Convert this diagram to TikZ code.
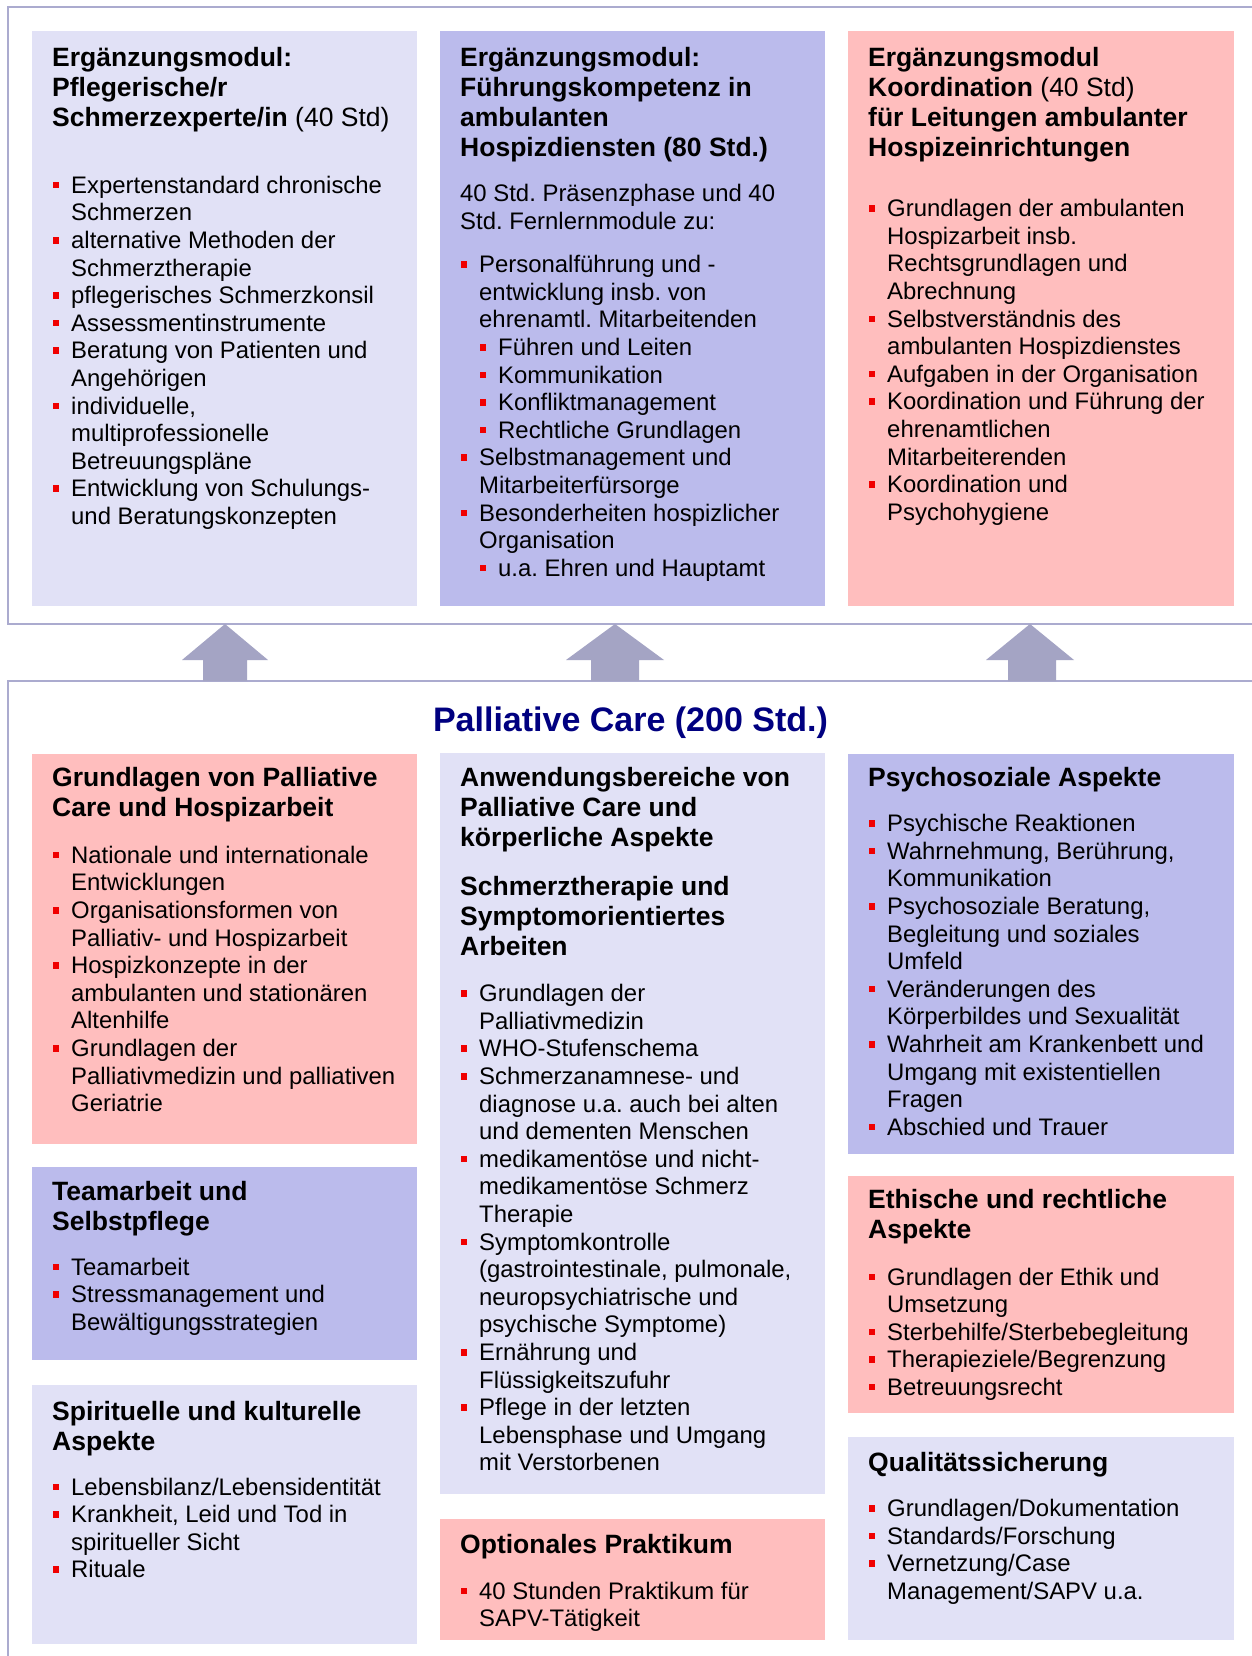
\documentclass[tikz,border=0pt]{standalone}
\usepackage{fontspec}
\setmainfont{Liberation Sans}
\frenchspacing
\definecolor{lightc}{RGB}{225,225,246}
\definecolor{medc}{RGB}{187,187,236}
\definecolor{pinkc}{RGB}{255,190,190}
\definecolor{arrc}{RGB}{164,164,196}
\definecolor{framec}{RGB}{171,171,207}
\definecolor{navyc}{RGB}{0,0,128}
\definecolor{bulc}{RGB}{240,0,0}
\newcounter{lnc}
\newcommand\HL[3]{\stepcounter{lnc}\node[hd] (h\arabic{lnc}) at (#1,#2) {#3};}
\newcommand\TL[3]{\stepcounter{lnc}\node[txt] (t\arabic{lnc}) at (#1,#2) {#3};}
\newcommand\CL[3]{\stepcounter{lnc}\node[txt] (t\arabic{lnc}) at (#1+19,#2) {#3};}
\newcommand\BL[3]{\stepcounter{lnc}\node[txt] (t\arabic{lnc}) at (#1+19,#2) {#3};\fill[bulc] (#1+0.8,#2-11.5) rectangle (#1+7.3,#2-5);}
\newcommand\SB[3]{\stepcounter{lnc}\node[txt] (t\arabic{lnc}) at (#1+38,#2) {#3};\fill[bulc] (#1+19.8,#2-11.5) rectangle (#1+26.3,#2-5);}
\newcommand\UpArrow[5]{\fill[arrc] (#1,624) -- (#3,660) -- (#5,660) -- (#5,681) -- (#4,681) -- (#4,660) -- (#2,660) -- cycle;}
\begin{document}
\begin{tikzpicture}[x=1pt,y=-1pt,
  txt/.style={anchor=base west,inner sep=0pt,font=\fontsize{23.9}{27.6}\selectfont},
  hd/.style={anchor=base west,inner sep=0pt,font=\fontsize{26.5}{30}\selectfont\bfseries},
  frame/.style={draw=framec,line width=2pt}]
\useasboundingbox (0,0) rectangle (1252,1656);
\fill[white] (0,0) rectangle (1252,1656);
% frames
\draw[frame] (1262,7) -- (8,7) -- (8,624) -- (1262,624);
\draw[frame] (1262,681) -- (8,681) -- (8,1662);
% arrows
\UpArrow{225}{182}{268}{203}{247}
\UpArrow{615}{566}{664}{591}{639}
\UpArrow{1030}{986}{1074}{1008}{1056}
% top boxes
\fill[lightc] (32,31) rectangle (417,606);
\fill[medc] (440,31) rectangle (825,606);
\fill[pinkc] (848,31) rectangle (1234,606);
% bottom boxes
\fill[pinkc] (32,754) rectangle (417,1144);
\fill[medc] (32,1167) rectangle (417,1360);
\fill[lightc] (32,1385) rectangle (417,1644);
\fill[lightc] (440,753) rectangle (825,1494);
\fill[pinkc] (440,1519) rectangle (825,1640);
\fill[medc] (848,754) rectangle (1234,1154);
\fill[pinkc] (848,1176) rectangle (1234,1413);
\fill[lightc] (848,1437) rectangle (1234,1640);
% title
\node[anchor=base,inner sep=0pt,text=navyc,font=\fontsize{34}{34}\selectfont\bfseries] (title) at (630.5,731.7) {Palliative Care (200 Std.)};
% top box 1
\HL{52}{66.3}{Ergänzungsmodul:}
\HL{52}{96.6}{Pflegerische/r}
\HL{52}{126.6}{Schmerzexperte/in {\mdseries(40 Std)}}
\BL{52}{193.3}{Expertenstandard chronische}
\CL{52}{220.9}{Schmerzen}
\BL{52}{248.5}{alternative Methoden der}
\CL{52}{276.1}{Schmerztherapie}
\BL{52}{303.7}{pflegerisches Schmerzkonsil}
\BL{52}{331.3}{Assessmentinstrumente}
\BL{52}{358.9}{Beratung von Patienten und}
\CL{52}{386.5}{Angehörigen}
\BL{52}{414.1}{individuelle,}
\CL{52}{441.7}{multiprofessionelle}
\CL{52}{469.3}{Betreuungspläne}
\BL{52}{496.9}{Entwicklung von Schulungs-}
\CL{52}{524.5}{und Beratungskonzepten}
% top box 2
\HL{460}{66.3}{Ergänzungsmodul:}
\HL{460}{96.6}{Führungskompetenz in}
\HL{460}{126.6}{ambulanten}
\HL{460}{156.6}{Hospizdiensten (80 Std.)}
\TL{460}{201.7}{40 Std. Präsenzphase und 40}
\TL{460}{229.2}{Std. Fernlernmodule zu:}
\BL{460}{272.7}{Personalführung und -}
\CL{460}{300.3}{entwicklung insb. von}
\CL{460}{327.9}{ehrenamtl. Mitarbeitenden}
\SB{460}{355.5}{Führen und Leiten}
\SB{460}{383.1}{Kommunikation}
\SB{460}{410.7}{Konfliktmanagement}
\SB{460}{438.3}{Rechtliche Grundlagen}
\BL{460}{465.9}{Selbstmanagement und}
\CL{460}{493.5}{Mitarbeiterfürsorge}
\BL{460}{521.1}{Besonderheiten hospizlicher}
\CL{460}{548.7}{Organisation}
\SB{460}{576.3}{u.a. Ehren und Hauptamt}
% top box 3
\HL{868}{66.3}{Ergänzungsmodul}
\HL{868}{96.6}{Koordination {\mdseries(40 Std)}}
\HL{868}{126.6}{für Leitungen ambulanter}
\HL{868}{156.6}{Hospizeinrichtungen}
\BL{868}{216.7}{Grundlagen der ambulanten}
\CL{868}{244.3}{Hospizarbeit insb.}
\CL{868}{271.9}{Rechtsgrundlagen und}
\CL{868}{299.5}{Abrechnung}
\BL{868}{327.1}{Selbstverständnis des}
\CL{868}{354.7}{ambulanten Hospizdienstes}
\BL{868}{382.3}{Aufgaben in der Organisation}
\BL{868}{409.9}{Koordination und Führung der}
\CL{868}{437.5}{ehrenamtlichen}
\CL{868}{465.1}{Mitarbeiterenden}
\BL{868}{492.7}{Koordination und}
\CL{868}{520.3}{Psychohygiene}
% bottom left 1
\HL{52}{786.7}{Grundlagen von Palliative}
\HL{52}{816.7}{Care und Hospizarbeit}
\BL{52}{863.3}{Nationale und internationale}
\CL{52}{890.9}{Entwicklungen}
\BL{52}{918.5}{Organisationsformen von}
\CL{52}{946.1}{Palliativ- und Hospizarbeit}
\BL{52}{973.7}{Hospizkonzepte in der}
\CL{52}{1001.3}{ambulanten und stationären}
\CL{52}{1028.9}{Altenhilfe}
\BL{52}{1056.5}{Grundlagen der}
\CL{52}{1084.1}{Palliativmedizin und palliativen}
\CL{52}{1111.7}{Geriatrie}
% bottom left 2
\HL{52}{1200}{Teamarbeit und}
\HL{52}{1230}{Selbstpflege}
\BL{52}{1275}{Teamarbeit}
\BL{52}{1302.6}{Stressmanagement und}
\CL{52}{1330.2}{Bewältigungsstrategien}
% bottom left 3
\HL{52}{1420}{Spirituelle und kulturelle}
\HL{52}{1450}{Aspekte}
\BL{52}{1495}{Lebensbilanz/Lebensidentität}
\BL{52}{1522.6}{Krankheit, Leid und Tod in}
\CL{52}{1550.2}{spiritueller Sicht}
\BL{52}{1577.8}{Rituale}
% bottom middle 1
\HL{460}{786.7}{Anwendungsbereiche von}
\HL{460}{816.7}{Palliative Care und}
\HL{460}{846.7}{körperliche Aspekte}
\HL{460}{895}{Schmerztherapie und}
\HL{460}{925}{Symptomorientiertes}
\HL{460}{955}{Arbeiten}
\BL{460}{1001.7}{Grundlagen der}
\CL{460}{1029.3}{Palliativmedizin}
\BL{460}{1056.9}{WHO-Stufenschema}
\BL{460}{1084.5}{Schmerzanamnese- und}
\CL{460}{1112.1}{diagnose u.a. auch bei alten}
\CL{460}{1139.7}{und dementen Menschen}
\BL{460}{1167.3}{medikamentöse und nicht-}
\CL{460}{1194.9}{medikamentöse Schmerz}
\CL{460}{1222.5}{Therapie}
\BL{460}{1250.1}{Symptomkontrolle}
\CL{460}{1277.7}{(gastrointestinale, pulmonale,}
\CL{460}{1305.3}{neuropsychiatrische und}
\CL{460}{1332.9}{psychische Symptome)}
\BL{460}{1360.5}{Ernährung und}
\CL{460}{1388.1}{Flüssigkeitszufuhr}
\BL{460}{1415.7}{Pflege in der letzten}
\CL{460}{1443.3}{Lebensphase und Umgang}
\CL{460}{1470.9}{mit Verstorbenen}
% bottom middle 2
\HL{460}{1553.3}{Optionales Praktikum}
\BL{460}{1599.3}{40 Stunden Praktikum für}
\CL{460}{1626.9}{SAPV-Tätigkeit}
% bottom right 1
\HL{868}{786.7}{Psychosoziale Aspekte}
\BL{868}{831.7}{Psychische Reaktionen}
\BL{868}{859.3}{Wahrnehmung, Berührung,}
\CL{868}{886.9}{Kommunikation}
\BL{868}{914.5}{Psychosoziale Beratung,}
\CL{868}{942.1}{Begleitung und soziales}
\CL{868}{969.7}{Umfeld}
\BL{868}{997.3}{Veränderungen des}
\CL{868}{1024.9}{Körperbildes und Sexualität}
\BL{868}{1052.5}{Wahrheit am Krankenbett und}
\CL{868}{1080.1}{Umgang mit existentiellen}
\CL{868}{1107.7}{Fragen}
\BL{868}{1135.3}{Abschied und Trauer}
% bottom right 2
\HL{868}{1208.3}{Ethische und rechtliche}
\HL{868}{1238.3}{Aspekte}
\BL{868}{1285}{Grundlagen der Ethik und}
\CL{868}{1312.6}{Umsetzung}
\BL{868}{1340.2}{Sterbehilfe/Sterbebegleitung}
\BL{868}{1367.8}{Therapieziele/Begrenzung}
\BL{868}{1395.4}{Betreuungsrecht}
% bottom right 3
\HL{868}{1471.7}{Qualitätssicherung}
\BL{868}{1516.7}{Grundlagen/Dokumentation}
\BL{868}{1544.3}{Standards/Forschung}
\BL{868}{1571.9}{Vernetzung/Case}
\CL{868}{1599.5}{Management/SAPV u.a.}
\end{tikzpicture}
\end{document}
